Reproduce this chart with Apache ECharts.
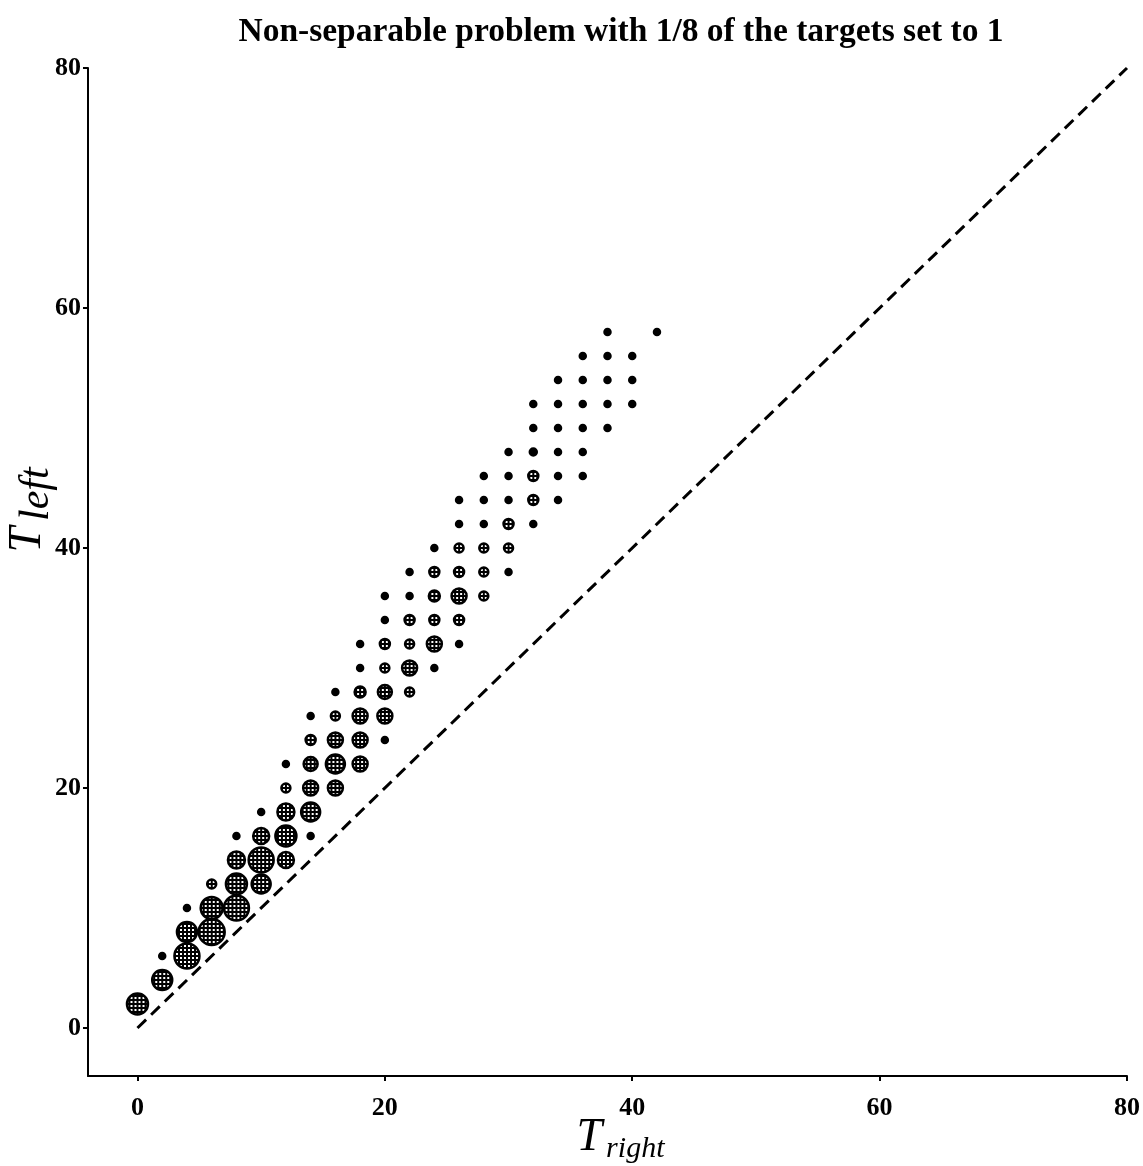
<!DOCTYPE html>
<html>
<head>
<meta charset="utf-8">
<script src="https://cdn.jsdelivr.net/npm/echarts@6/dist/echarts.min.js"></script>
<style>
html,body{margin:0;padding:0;background:#fff;}
#chart{width:1143px;height:1166px;}
</style>
</head>
<body>
<div id="chart"></div>
<script>
// ---- data ----
const titleText = 'Non-separable problem with 1/8 of the targets set to 1';
const tickValues = [0, 20, 40, 60, 80];
const tRight = [0,2,2,4,4,6,4,6,8,6,8,10,8,10,12,8,10,12,14,10,12,14,12,14,16,12,14,16,18,14,16,18,20,14,16,18,20,16,18,20,22,18,20,22,24,18,20,22,24,26,20,22,24,26,20,22,24,26,28,22,24,26,28,30,24,26,28,30,26,28,30,32,26,28,30,32,34,28,30,32,34,36,30,32,34,36,32,34,36,38,32,34,36,38,40,34,36,38,40,36,38,40,38,42];
const tLeft  = [2,4,6,6,8,8,10,10,10,12,12,12,14,14,14,16,16,16,16,18,18,18,20,20,20,22,22,22,22,24,24,24,24,26,26,26,26,28,28,28,28,30,30,30,30,32,32,32,32,32,34,34,34,34,36,36,36,36,36,38,38,38,38,38,40,40,40,40,42,42,42,42,44,44,44,44,44,46,46,46,46,46,48,48,48,48,50,50,50,50,52,52,52,52,52,54,54,54,54,56,56,56,58,58];
const weight = [22,21,6,26,21,27,6,23,26,10,22,20,18,26,17,6,17,22,6,6,18,20,10,16,16,6,15,20,16,11,16,16,6,6,10,16,16,6,12,15,10,6,10,16,6,6,11,10,16,6,6,11,11,11,6,6,12,16,10,6,11,11,10,6,6,10,10,10,6,6,11,6,6,6,6,11,6,6,6,11,6,6,6,7,6,6,6,6,6,6,6,6,6,6,6,6,6,6,6,6,6,6,6,6];
const diagonal = [[0, 0], [80, 80]];
// ---------------

const points = tRight.map((x, i) => [x, tLeft[i], weight[i]]);
const symSize = w => (w > 7 ? w - 1 : w);

const pc = document.createElement('canvas');
pc.width = 4; pc.height = 4;
const pctx = pc.getContext('2d');
pctx.fillStyle = '#000'; pctx.fillRect(0, 0, 4, 4);
pctx.fillStyle = '#fff'; pctx.fillRect(1, 1, 2, 2);
function hatchFor(w) {
  const s = 2 / symSize(w);
  return { image: pc, repeat: 'repeat', scaleX: s, scaleY: s };
}

const serif = '"Liberation Serif", "DejaVu Serif", serif';
const chart = echarts.init(document.getElementById('chart'));

function axisCommon(extra) {
  return Object.assign({
    type: 'value', min: -4, max: 80,
    splitLine: { show: false },
    axisLine: { show: true, onZero: false, lineStyle: { color: '#000', width: 2 } },
    axisTick: { show: true, inside: false, length: 5, customValues: tickValues, lineStyle: { color: '#000', width: 2 } },
    nameLocation: 'middle',
    nameMoveOverlap: false
  }, extra);
}
const richX = {
  t: { fontFamily: serif, fontStyle: 'italic', fontSize: 46, color: '#000' },
  s: { fontFamily: serif, fontStyle: 'italic', fontSize: 30, color: '#000', padding: [22, 0, 0, 4] }
};
const richY = {
  t: { fontFamily: serif, fontStyle: 'italic', fontSize: 46, color: '#000' },
  s: { fontFamily: serif, fontStyle: 'italic', fontSize: 42, color: '#000', padding: [18, 0, 0, 6] }
};

chart.setOption({
  animation: false,
  backgroundColor: '#fff',
  title: {
    text: titleText, left: 616, top: 10, textAlign: 'center',
    textStyle: { fontFamily: serif, fontWeight: 'bold', fontSize: 33.5, color: '#000' }
  },
  grid: { left: 88, right: 16, top: 68, bottom: 90, containLabel: false, outerBoundsMode: 'none' },
  xAxis: axisCommon({
    name: '{t|T}{s|right}', nameGap: 36,
    nameTextStyle: { color: '#000', fontFamily: serif, rich: richX, padding: [0, 0, 0, 26] },
    axisLabel: { customValues: tickValues, color: '#000', fontFamily: serif, fontWeight: 'bold', fontSize: 26, margin: 19 }
  }),
  yAxis: axisCommon({
    name: '{t|T}{s|left}', nameGap: 30, nameRotate: 90,
    nameTextStyle: { color: '#000', fontFamily: serif, rich: richY, padding: [0, 0, 0, 124] },
    axisLabel: { customValues: tickValues, color: '#000', fontFamily: serif, fontWeight: 'bold', fontSize: 26, margin: 7 }
  }),
  series: [
    {
      type: 'line', data: diagonal, symbol: 'none', silent: true,
      lineStyle: { color: '#000', width: 3, type: [12, 7] }, z: 1
    },
    {
      type: 'scatter', data: points, z: 2,
      symbol: 'circle',
      symbolSize: v => symSize(v[2]),
      itemStyle: {
        color: p => p.data[2] > 7 ? hatchFor(p.data[2]) : '#000',
        borderColor: '#000',
        borderWidth: 2.5,
        opacity: 1
      }
    }
  ]
});
</script>
</body>
</html>
